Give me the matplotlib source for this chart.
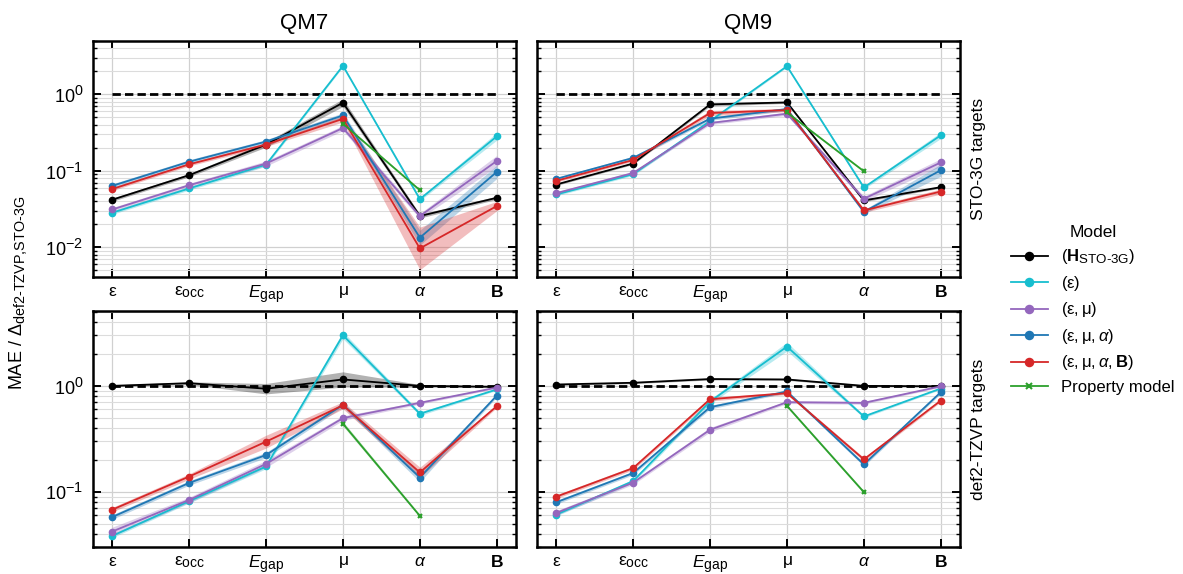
import numpy as np
import matplotlib
matplotlib.use("Agg")
import matplotlib.pyplot as plt
import matplotlib._mathtext as mathtext_internals

# bigger sub/superscripts, closer to the original figure
mathtext_internals.SHRINK_FACTOR = 0.8

plt.rcParams['font.family'] = ['Liberation Sans', 'DejaVu Sans']
plt.rcParams['mathtext.fontset'] = 'custom'
plt.rcParams['mathtext.rm'] = 'Liberation Sans'
plt.rcParams['mathtext.it'] = 'Liberation Sans:italic'
plt.rcParams['mathtext.bf'] = 'Liberation Sans:bold'

# x categories
cats = [r'$\mathrm{\varepsilon}$', r'$\mathrm{\varepsilon}_{\mathrm{occ}}$', r'$E_{\mathrm{gap}}$',
        r'$\mathrm{\mu}$', r'$\alpha$', r'$\mathbf{B}$']

models = ['H', 'eps', 'eps_mu', 'eps_mu_alpha', 'all', 'prop']
labels = [r'($\mathbf{H}_{\text{STO-3G}}$)', r'($\mathrm{\varepsilon}$)',
          r'($\mathrm{\varepsilon}, \mathrm{\mu}$)',
          r'($\mathrm{\varepsilon}, \mathrm{\mu}, \alpha$)',
          r'($\mathrm{\varepsilon}, \mathrm{\mu}, \alpha, \mathbf{B}$)',
          'Property model']
colors = ['black', '#17becf', '#9467bd', '#1f77b4', '#d62728', '#2ca02c']
nan = np.nan

# MAE / Delta values, QM7 with STO-3G targets
qm7_sto = {
    'H':            [0.042, 0.088, 0.221, 0.78, 0.0257, 0.0445],
    'eps':          [0.0284, 0.059, 0.121, 2.37, 0.0428, 0.283],
    'eps_mu':       [0.0313, 0.065, 0.125, 0.364, 0.0257, 0.135],
    'eps_mu_alpha': [0.0638, 0.132, 0.242, 0.532, 0.0134, 0.097],
    'all':          [0.058, 0.122, 0.221, 0.48, 0.0097, 0.0347],
    'prop':         [nan, nan, nan, 0.415, 0.056, nan],
}
qm7_sto_spread = {
    'H':            [1.05, 1.05, 1.08, 1.12, 1.06, 1.05],
    'eps':          [1.05, 1.05, 1.05, 1.03, 1.05, 1.12],
    'eps_mu':       [1.06, 1.06, 1.08, 1.08, 1.08, 1.18],
    'eps_mu_alpha': [1.06, 1.06, 1.06, 1.08, 1.25, 1.22],
    'all':          [1.05, 1.05, 1.06, 1.1, 1.9, 1.15],
    'prop':         [nan, nan, nan, 1.03, 1.03, nan],
}

# QM9 with STO-3G targets
qm9_sto = {
    'H':            [0.0664, 0.125, 0.741, 0.787, 0.0411, 0.0613],
    'eps':          [0.0492, 0.0906, 0.449, 2.34, 0.0607, 0.292],
    'eps_mu':       [0.0512, 0.094, 0.423, 0.56, 0.0432, 0.129],
    'eps_mu_alpha': [0.0787, 0.148, 0.482, 0.644, 0.0292, 0.102],
    'all':          [0.0741, 0.139, 0.571, 0.625, 0.0304, 0.0538],
    'prop':         [nan, nan, nan, 0.582, 0.099, nan],
}
qm9_sto_spread = {
    'H':            [1.03, 1.03, 1.05, 1.03, 1.04, 1.03],
    'eps':          [1.04, 1.04, 1.04, 1.03, 1.05, 1.1],
    'eps_mu':       [1.04, 1.04, 1.05, 1.05, 1.08, 1.12],
    'eps_mu_alpha': [1.04, 1.05, 1.05, 1.05, 1.06, 1.2],
    'all':          [1.04, 1.04, 1.08, 1.05, 1.06, 1.08],
    'prop':         [nan, nan, nan, 1.03, 1.03, nan],
}

# QM7 with def2-TZVP targets
qm7_tzvp = {
    'H':            [1.0, 1.06, 0.94, 1.15, 1.0, 0.98],
    'eps':          [0.0382, 0.0813, 0.173, 3.01, 0.545, 0.925],
    'eps_mu':       [0.042, 0.0836, 0.183, 0.496, 0.692, 0.964],
    'eps_mu_alpha': [0.0576, 0.121, 0.222, 0.663, 0.136, 0.81],
    'all':          [0.0676, 0.139, 0.297, 0.655, 0.152, 0.643],
    'prop':         [nan, nan, nan, 0.439, 0.059, nan],
}
qm7_tzvp_spread = {
    'H':            [1.02, 1.03, 1.12, 1.18, 1.03, 1.02],
    'eps':          [1.04, 1.04, 1.05, 1.08, 1.04, 1.02],
    'eps_mu':       [1.1, 1.06, 1.08, 1.05, 1.03, 1.02],
    'eps_mu_alpha': [1.05, 1.05, 1.06, 1.05, 1.1, 1.03],
    'all':          [1.05, 1.06, 1.15, 1.08, 1.12, 1.03],
    'prop':         [nan, nan, nan, 1.05, 1.03, nan],
}

# QM9 with def2-TZVP targets
qm9_tzvp = {
    'H':            [1.03, 1.07, 1.16, 1.15, 1.0, 0.99],
    'eps':          [0.0607, 0.126, 0.711, 2.35, 0.514, 0.944],
    'eps_mu':       [0.063, 0.1217, 0.385, 0.701, 0.691, 0.99],
    'eps_mu_alpha': [0.0794, 0.150, 0.629, 0.885, 0.181, 0.871],
    'all':          [0.0897, 0.167, 0.748, 0.853, 0.202, 0.726],
    'prop':         [nan, nan, nan, 0.647, 0.099, nan],
}
qm9_tzvp_spread = {
    'H':            [1.02, 1.02, 1.02, 1.02, 1.02, 1.02],
    'eps':          [1.03, 1.04, 1.05, 1.1, 1.03, 1.02],
    'eps_mu':       [1.05, 1.04, 1.05, 1.03, 1.03, 1.02],
    'eps_mu_alpha': [1.04, 1.04, 1.04, 1.03, 1.04, 1.03],
    'all':          [1.04, 1.04, 1.04, 1.03, 1.04, 1.03],
    'prop':         [nan, nan, nan, 1.03, 1.03, nan],
}

panels = [[(qm7_sto, qm7_sto_spread), (qm9_sto, qm9_sto_spread)],
          [(qm7_tzvp, qm7_tzvp_spread), (qm9_tzvp, qm9_tzvp_spread)]]
row_ylim = [(0.0041, 5.0), (0.030, 5.1)]
col_titles = ['QM7', 'QM9']
row_labels = ['STO-3G targets', 'def2-TZVP targets']

fig = plt.figure(figsize=(11.83, 5.74), dpi=100)
lefts = [93 / 1183, 537 / 1183]
width = 423 / 1183
bottoms = [1 - 277 / 574, 1 - 547 / 574]
height = 236 / 574

x = np.arange(len(cats))
axes = [[None, None], [None, None]]
for r in range(2):
    for c in range(2):
        ax = fig.add_axes([lefts[c], bottoms[r], width, height])
        axes[r][c] = ax
        data, spread = panels[r][c]
        for m, lab, col in zip(models, labels, colors):
            v = np.array(data[m])
            f = np.array(spread[m])
            ok = ~np.isnan(v)
            ax.fill_between(x[ok], v[ok] / f[ok], v[ok] * f[ok], color=col,
                            alpha=0.3, lw=0, zorder=2)
            if m == 'prop':
                ax.plot(x[ok], v[ok], color=col, lw=1.3, marker='x', ms=3.5,
                        mew=1.5, label=lab, zorder=3)
            else:
                ax.plot(x[ok], v[ok], color=col, lw=1.3, marker='o', ms=4.5,
                        label=lab, zorder=3)
        ax.hlines(1, x[0], x[-1], colors='k', linestyles=(0, (3, 1.5)), lw=2, zorder=1.5)
        ax.set_yscale('log')
        ax.set_ylim(*row_ylim[r])
        ax.set_xticks(x)
        ax.set_xticklabels(cats, fontsize=12.5)
        ax.grid(True, which='major', color='#d0d0d0', lw=0.9, zorder=0)
        ax.grid(True, which='minor', axis='y', color='#dcdcdc', lw=0.8, zorder=0)
        ax.set_axisbelow(True)
        ax.tick_params(axis='both', which='both', direction='in', top=True, right=True)
        ax.tick_params(axis='y', which='major', length=6, width=1.4, pad=7, labelsize=13)
        ax.tick_params(axis='x', which='major', length=6, width=1.4, pad=5, labelsize=12.5)
        ax.tick_params(axis='y', which='minor', length=3, width=1)
        for s in ax.spines.values():
            s.set_linewidth(1.8)
        if c == 1:
            ax.tick_params(axis='y', which='both', labelleft=False)
            ax.text(1.043, 0.5, row_labels[r], transform=ax.transAxes, rotation=90,
                    ha='center', va='center', fontsize=12.5)
        if r == 0:
            ax.set_title(col_titles[c], fontsize=16, pad=9)

fig.text(18 / 1183, 1 - 293 / 574, r'MAE / $\Delta_{\text{def2-TZVP,STO-3G}}$',
         rotation=90, ha='center', va='center', fontsize=13)

handles, labs = axes[0][0].get_legend_handles_labels()
fig.legend(handles, labs, title='Model', loc='center left', bbox_to_anchor=(0.842, 0.46),
           frameon=False, fontsize=12, title_fontsize=12.5, markerscale=1.3,
           handlelength=2.2, labelspacing=0.45)

fig.savefig('out.png', dpi=100)
